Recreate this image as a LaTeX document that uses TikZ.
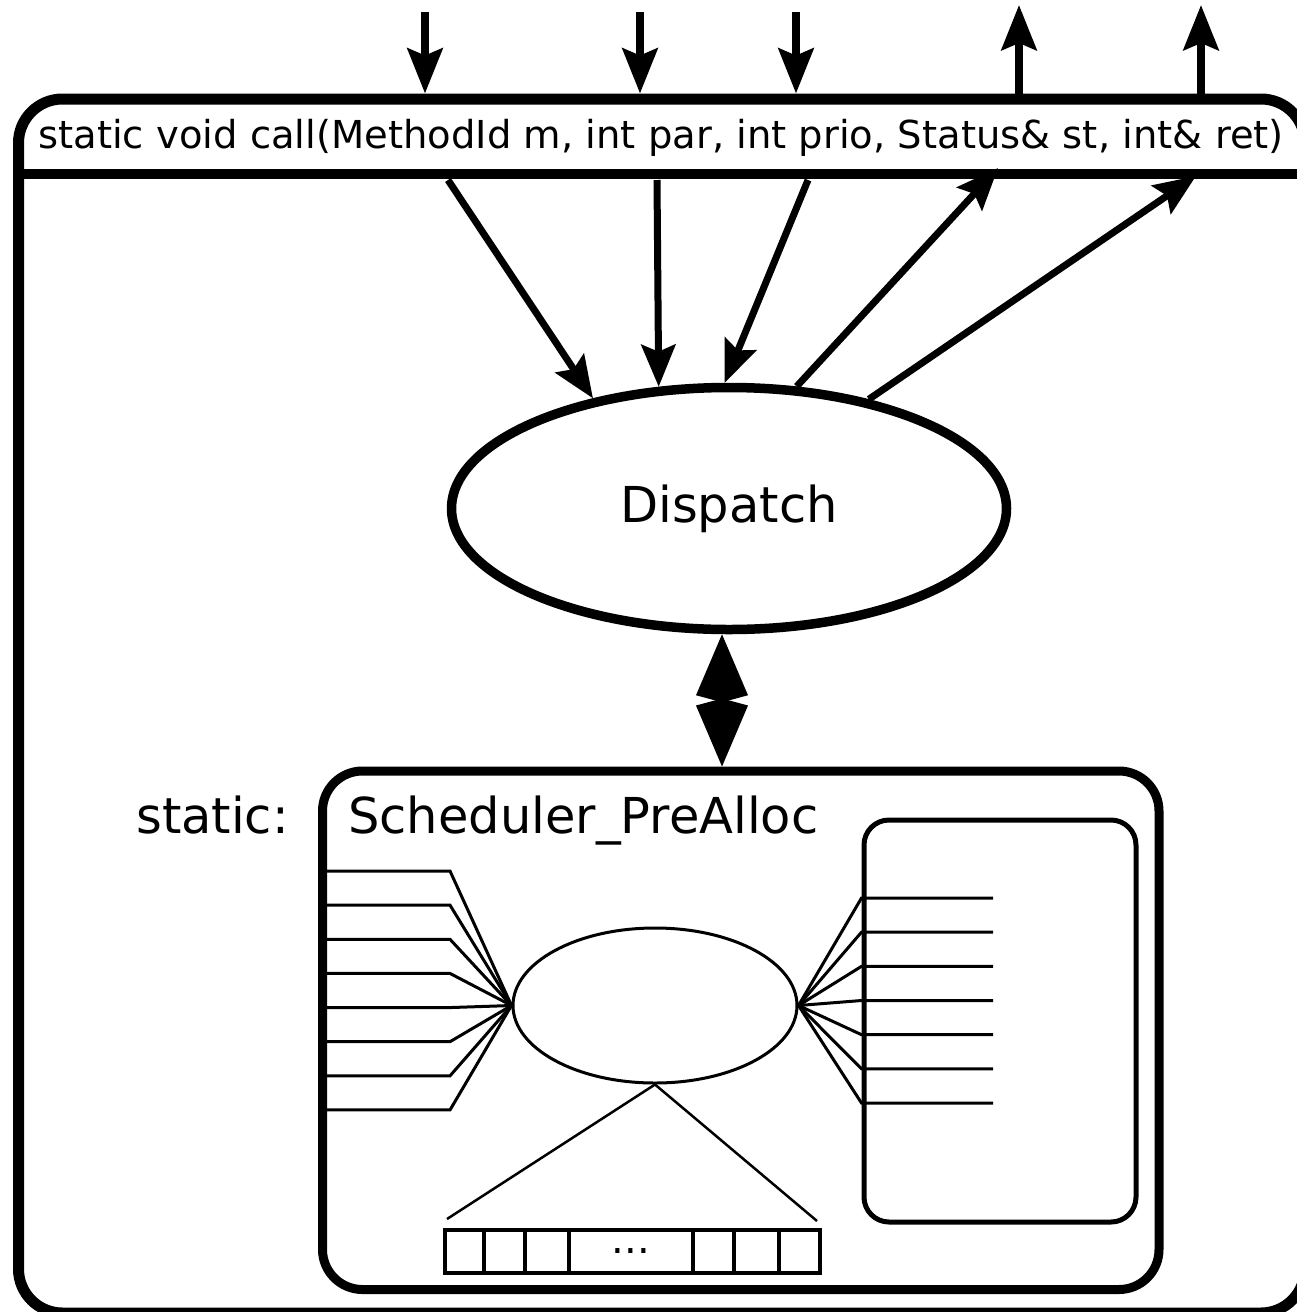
\documentclass[tikz,border=0pt]{standalone}
\usepackage{fontspec}
\setmainfont{DejaVu Sans}
\usetikzlibrary{arrows.meta,shapes.geometric}
\newcommand\myHdrFont{\fontsize{38.5pt}{46pt}\selectfont}
\newcommand\myBigFont{\fontsize{49.5pt}{58pt}\selectfont}
\newcommand\myDotFont{\fontsize{40pt}{50pt}\selectfont}
\begin{document}
\begin{tikzpicture}[x=1pt,y=-1pt,
  inarrow/.style={line width=7pt,-{Stealth[length=42pt,width=34pt,inset=7pt]}},
  toparrow/.style={line width=8pt,-{Stealth[length=45pt,width=35pt,inset=7pt]}},
  dblarrow/.style={line width=8pt,{Kite[length=68pt,width=52pt,inset=7pt]}-{Kite[length=68pt,width=52pt,inset=7pt]}},
  fanline/.style={line width=3pt},
  arraycell/.style={draw,line width=4pt,minimum height=42.5pt,inner sep=0pt}
]
\useasboundingbox (0,0) rectangle (1296,1312);

% outer frame
\node[draw,line width=11pt,rounded corners=44pt,minimum width=1286.5pt,minimum height=1214pt,inner sep=0pt] (outer) at (661.75,706) {};
\draw[line width=10pt] (outer.west |- 0,174) -- (outer.east |- 0,174);
\node[font=\myHdrFont,anchor=base,inner sep=0pt] (hdr) at (661,148) {static void call(MethodId m, int par, int prio, Status\& st, int\& ret)};

% top arrows
\foreach \x/\n in {425/a,640/b,796/c}{
  \coordinate (in\n) at (\x,12);
  \draw[toparrow] (in\n) -- (in\n |- outer.north);
}
\foreach \x/\n in {1019/d,1201/e}{
  \coordinate (out\n) at (\x,5);
  \draw[toparrow] (out\n |- outer.north) -- (out\n);
}

% dispatch
\node[draw,ellipse,line width=9.5pt,minimum width=555pt,minimum height=242pt,inner sep=0pt,font=\myBigFont] (disp) at (729,508.5) {Dispatch};

\coordinate (h1) at (448,180);
\coordinate (h2) at (657,180);
\coordinate (h3) at (808,180);
\coordinate (t4) at (998,168);
\coordinate (t5) at (1196,176);
\draw[inarrow] (h1) -- (disp.141);
\draw[inarrow] (h2) -- (disp.120.6);
\draw[inarrow] (h3) -- (disp.92.8);
\draw[inarrow] (disp.61) -- (t4);
\draw[inarrow] (disp.38) -- (t5);

% scheduler
\node[draw,line width=9pt,rounded corners=40pt,minimum width=836.5pt,minimum height=518.5pt,inner sep=0pt] (sched) at (740.75,1030.25) {};
\node[font=\myBigFont,anchor=base west,inner sep=0pt] (schedlbl) at (348,833) {Scheduler\_PreAlloc};
\node[font=\myBigFont,anchor=base east,inner sep=0pt] (staticlbl) at (289,833) {static:};

\draw[dblarrow] (722,0 |- disp.south) -- (722,0 |- sched.north);

% inner right box
\node[draw,line width=5pt,rounded corners=25pt,minimum width=272pt,minimum height=402pt,inner sep=0pt] (ibox) at (1000,1021) {};

% small ellipse
\node[draw,ellipse,line width=3pt,minimum width=284pt,minimum height=155pt,inner sep=0pt] (se) at (655,1005.5) {};

\foreach \i in {0,...,7}{
  \pgfmathsetmacro\yy{871+34.14*\i}
  \draw[fanline] (sched.west |- 0,\yy) -- (450,\yy) -- (se.west);
}
\foreach \i in {0,...,6}{
  \pgfmathsetmacro\yy{898+34.17*\i}
  \draw[fanline] (993,\yy) -- (ibox.west |- 0,\yy) -- (se.east);
}

% array
\coordinate (bl) at (447,1219);
\coordinate (br) at (817,1221);
\draw[fanline,line width=2.5pt] (bl) -- (se.south) -- (br);

\foreach \a/\b/\n in {444.7/484/1,484/525/2,525/569/3,569/692.7/4,692.7/734.3/5,734.3/779/6,779/820/7}{
  \pgfmathsetmacro\w{\b-\a}
  \pgfmathsetmacro\c{(\a+\b)/2}
  \node[arraycell,minimum width=\w pt] (c\n) at (\c,1251.25) {};
}
\node[font=\myDotFont,inner sep=0pt] (dots) at (c4.center) {...};
\end{tikzpicture}
\end{document}
